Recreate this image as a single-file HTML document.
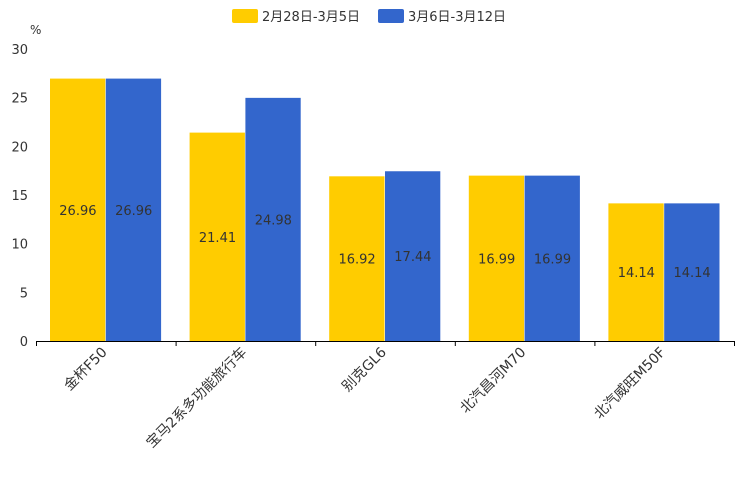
<!DOCTYPE html>
<html><head><meta charset="utf-8"><style>
html,body{margin:0;padding:0;background:#fff;width:744px;height:496px;overflow:hidden}
text{font-family:"DejaVu Sans","Liberation Sans","Noto Sans CJK SC",sans-serif}
</style></head><body>
<svg id="chart" width="744" height="496" xmlns="http://www.w3.org/2000/svg"></svg>
<script>
const categories = ["金杯F50","宝马2系多功能旅行车","别克GL6","北汽昌河M70","北汽威旺M50F"];
const series1 = [26.96,21.41,16.92,16.99,14.14];
const series2 = [26.96,24.98,17.44,16.99,14.14];
const seriesNames = ["2月28日-3月5日","3月6日-3月12日"];
const yTicks = [0,5,10,15,20,25,30];
const colors = ["#FFCC00","#3366CC"];
const svg = document.getElementById('chart');
const NS = "http://www.w3.org/2000/svg";
const L=36,R=734,T=49,B=341,yMax=30;
const y = v => B-(B-T)*v/yMax;
const band=(R-L)/categories.length;
const x = i => L+band*i;
function mk(tag, attrs, txt){const e=document.createElementNS(NS,tag);for(const k in attrs)e.setAttribute(k,attrs[k]);if(txt!==undefined)e.textContent=txt;svg.appendChild(e);return e;}
let lx=[232,378];
seriesNames.forEach((n,i)=>{
  const r=mk('rect',{x:lx[i],y:9,width:26,height:14,rx:2,fill:colors[i]});
  
  
  const t=mk('text',{x:lx[i]+30,y:21,'font-size':13,fill:'#333'},n);
  
  
});
const u=mk('text',{x:30,y:34,'font-size':12,fill:'#333'},'%');


yTicks.forEach(v=>{
  const t=mk('text',{x:28,y:y(v)+5,'font-size':13,fill:'#333','text-anchor':'end'},String(v));
  
  
});
const pad=14, bw=(band-2*pad)/2;
[series1,series2].forEach((s,si)=>{
  s.forEach((v,i)=>{
    const bx=x(i)+pad+si*bw;
    const r=mk('rect',{x:bx,y:y(v),width:bw-0.5,height:B-y(v),fill:colors[si]});
    
    
    const t=mk('text',{x:bx+bw/2,y:(y(v)+B)/2+5,'font-size':13,fill:'#333','text-anchor':'middle'},v.toFixed(2));
    
    
  });
});
const ax=mk('line',{x1:L,x2:R,y1:B+0.5,y2:B+0.5,stroke:'#000','stroke-width':1});


for(let i=0;i<=categories.length;i++){
  const tk=mk('line',{x1:x(i)+0.5,x2:x(i)+0.5,y1:B,y2:B+5,stroke:'#000'});
  
  
}
categories.forEach((c,i)=>{
  const cx=x(i)+band/2+2, cy=B+12;
  const t=mk('text',{x:cx,y:cy,'font-size':14,fill:'#333','text-anchor':'end',transform:`rotate(-45 ${cx} ${cy})`},c);
  
  
});
</script>
</body></html>
